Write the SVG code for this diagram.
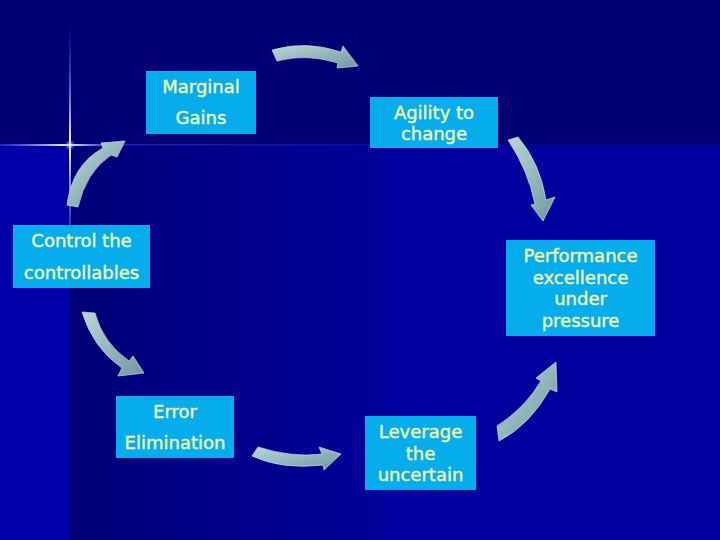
<svg xmlns="http://www.w3.org/2000/svg" width="720" height="540" viewBox="0 0 720 540">
<style>
.box{fill:#05adec}
.lbl{font-family:"DejaVu Sans","Verdana",sans-serif;font-size:18px;fill:#edf3a8;stroke:#edf3a8;stroke-width:0.45;text-anchor:middle}
.arr{fill:url(#ag);stroke:#c9dfe2;stroke-width:0.7;stroke-linejoin:round}
</style>
<defs>
<linearGradient id="lower" x1="70" y1="0" x2="420" y2="0" gradientUnits="userSpaceOnUse">
<stop offset="0" stop-color="#000078"/>
<stop offset="1" stop-color="#00009f"/>
</linearGradient>
<linearGradient id="vflare" x1="0" y1="0" x2="0" y2="1">
<stop offset="0" stop-color="#3050ff" stop-opacity="0"/>
<stop offset="0.5" stop-color="#ffffff" stop-opacity="1"/>
<stop offset="1" stop-color="#3050ff" stop-opacity="0"/>
</linearGradient>
<linearGradient id="hflare" x1="0" y1="0" x2="1" y2="0">
<stop offset="0" stop-color="#3050ff" stop-opacity="0.5"/>
<stop offset="0.55" stop-color="#ffffff" stop-opacity="1"/>
<stop offset="1" stop-color="#3050ff" stop-opacity="0"/>
</linearGradient>
<linearGradient id="hline" x1="0" y1="0" x2="1" y2="0">
<stop offset="0" stop-color="#1a30d0" stop-opacity="0.9"/>
<stop offset="1" stop-color="#1a30d0" stop-opacity="0"/>
</linearGradient>
<radialGradient id="glow">
<stop offset="0" stop-color="#ffffff" stop-opacity="0.9"/>
<stop offset="1" stop-color="#4060ff" stop-opacity="0"/>
</radialGradient>
<linearGradient id="ag" x1="0" y1="0" x2="1" y2="1">
<stop offset="0" stop-color="#bcd6d8"/>
<stop offset="0.5" stop-color="#93b8bc"/>
<stop offset="1" stop-color="#6f989e"/>
</linearGradient>
</defs>

<g id="background">
<rect x="0" y="0" width="720" height="540" fill="#000074"/>
<rect x="0" y="145" width="70" height="395" fill="#0000a8"/>
<rect x="70" y="145" width="650" height="395" fill="url(#lower)"/>
<rect x="70" y="144" width="500" height="1.5" fill="url(#hline)"/>
<rect x="69" y="20" width="2" height="250" fill="url(#vflare)"/>
<rect x="0" y="144" width="125" height="2" fill="url(#hflare)"/>
<circle cx="70" cy="145" r="6" fill="url(#glow)"/>
</g>

<g id="connectors">
<path class="arr" d="M272,50 Q306,40 341,52 L343,46 L358,66 L337,68 L338,63 Q306,53 277,61 Z"/>
<path class="arr" d="M508,140 L518,137 Q540,163 546,200 L555,197 L543,221 L531,205 L535,204 Q528,170 508,140 Z"/>
<path class="arr" d="M497,426 Q525,408 541,381 L536,378 L556,362 L557,392 L550,389 Q530,425 499,441 Z"/>
<path class="arr" d="M258,447 Q292,458 322,454 L319,447 L341,454 L324,470 L323,465 Q282,470 252,456 Z"/>
<path class="arr" d="M82,312 L95,313 Q103,343 129,361 L133,356 L144,373 L118,376 L122,368 Q93,348 82,312 Z"/>
<path class="arr" d="M67,205 Q72,165 103,148 L101,143 L125,141 L117,157 L111,155 Q86,172 78,207 Z"/>
</g>

<g id="node-marginal-gains">
<rect class="box" x="146" y="71" width="110" height="63"/>
<text class="lbl" x="201" y="93">Marginal</text>
<text class="lbl" x="201" y="124">Gains</text>
</g>

<g id="node-agility">
<rect class="box" x="370" y="97" width="128" height="51"/>
<text class="lbl" x="434" y="119">Agility to</text>
<text class="lbl" x="434" y="140">change</text>
</g>

<g id="node-performance">
<rect class="box" x="506" y="240" width="149" height="96"/>
<text class="lbl" x="580.5" y="262">Performance</text>
<text class="lbl" x="580.5" y="283.5">excellence</text>
<text class="lbl" x="580.5" y="305">under</text>
<text class="lbl" x="580.5" y="326.5">pressure</text>
</g>

<g id="node-leverage">
<rect class="box" x="365" y="416" width="111" height="74"/>
<text class="lbl" x="420.5" y="438">Leverage</text>
<text class="lbl" x="420.5" y="460">the</text>
<text class="lbl" x="420.5" y="481">uncertain</text>
</g>

<g id="node-error">
<rect class="box" x="116" y="396" width="118" height="62"/>
<text class="lbl" x="175" y="418">Error</text>
<text class="lbl" x="175" y="449">Elimination</text>
</g>

<g id="node-control">
<rect class="box" x="13" y="225" width="137" height="63"/>
<text class="lbl" x="81.5" y="247">Control the</text>
<text class="lbl" x="81.5" y="279">controllables</text>
</g>
</svg>
